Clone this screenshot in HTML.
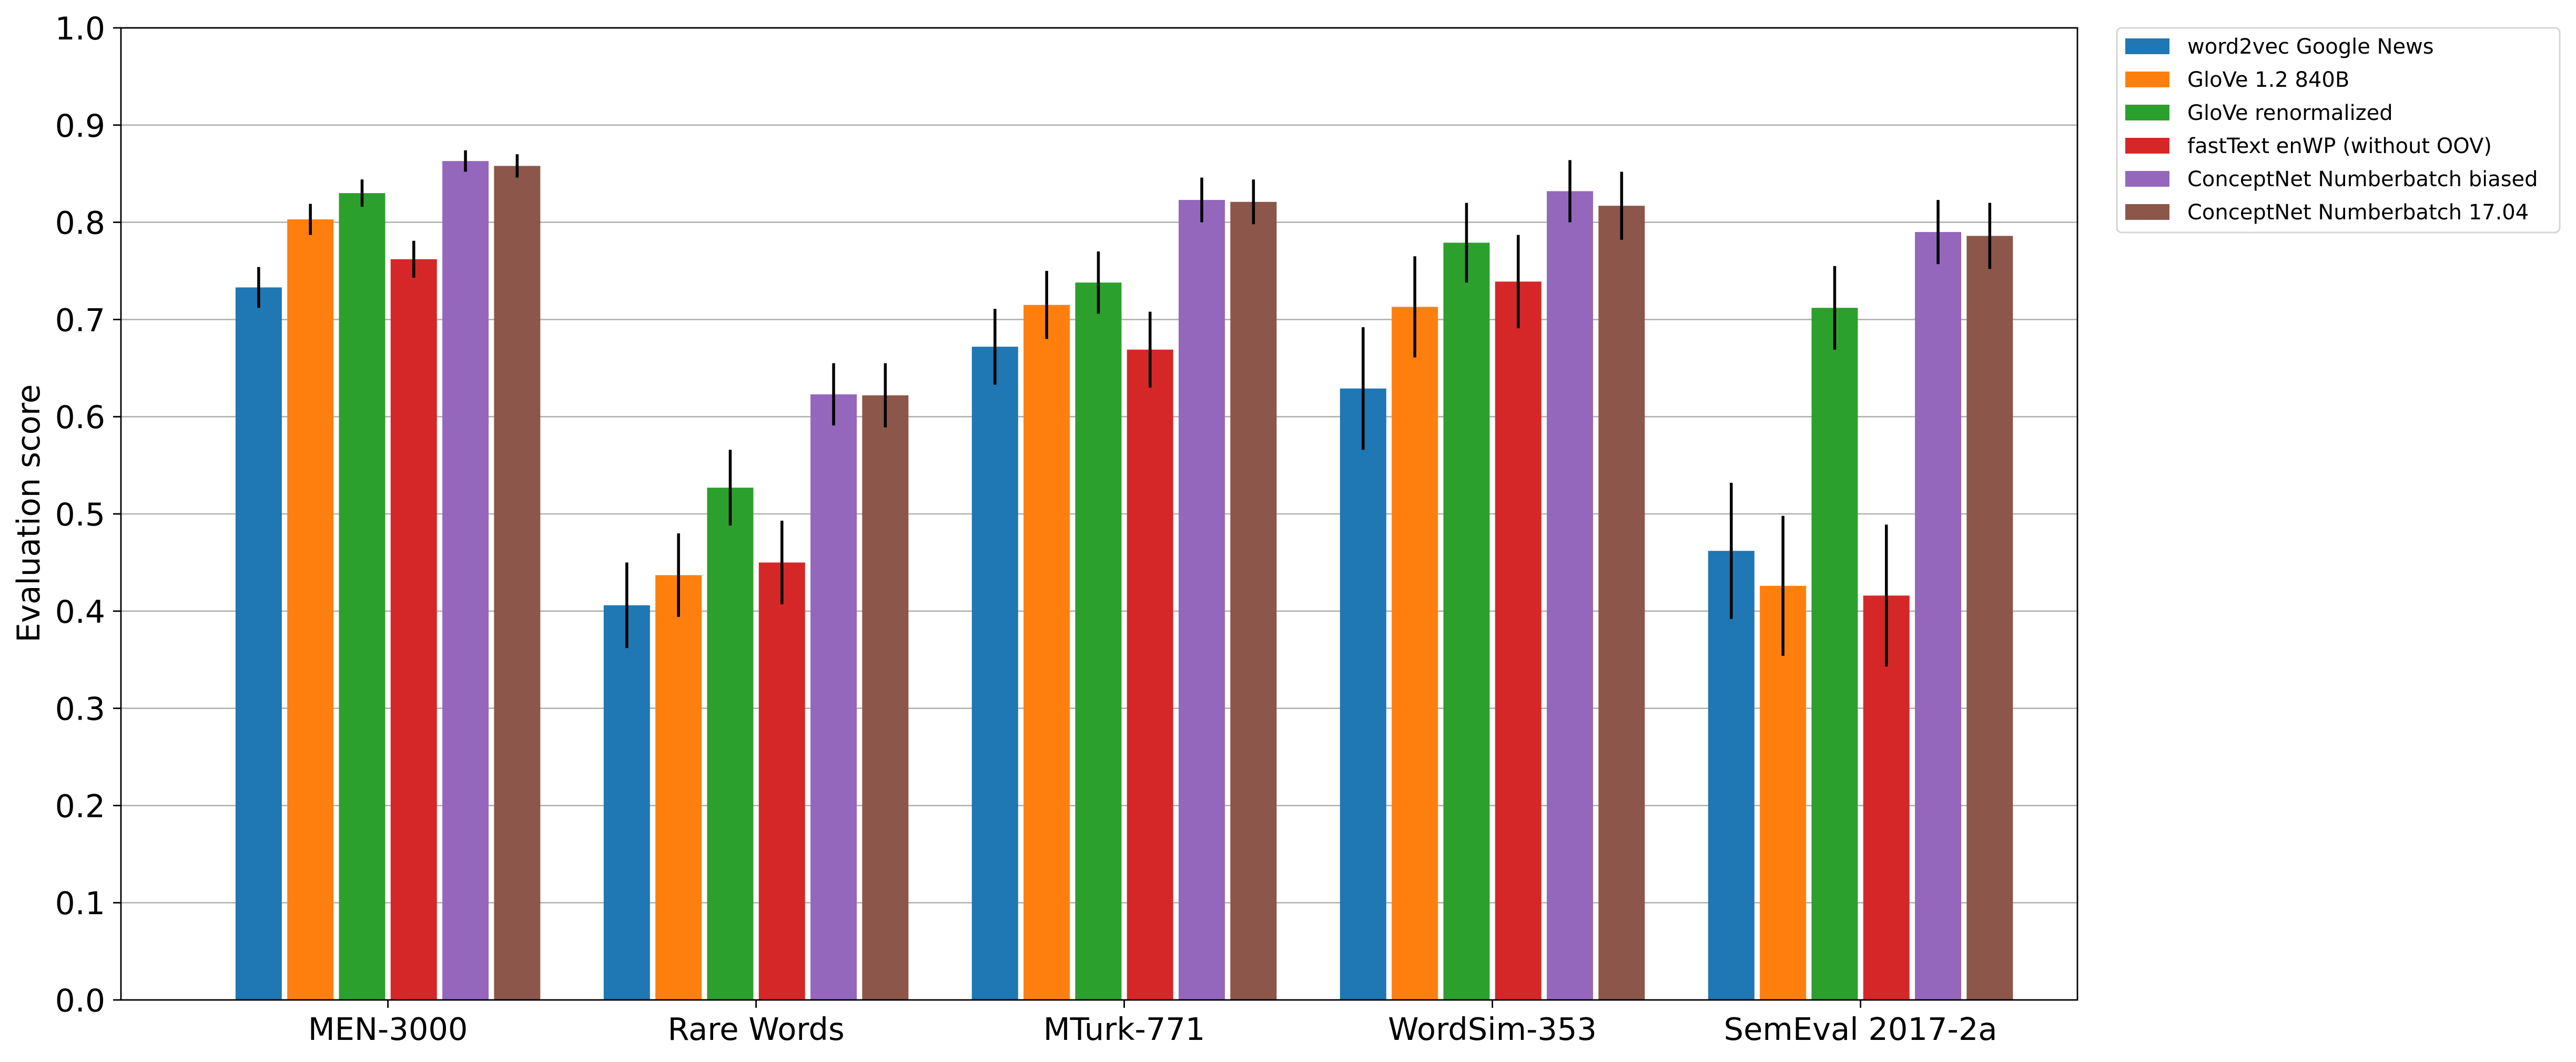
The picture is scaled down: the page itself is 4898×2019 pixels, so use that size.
<!DOCTYPE html>
<html><head><meta charset="utf-8"><title>Evaluation scores</title>
<style>html,body{margin:0;padding:0;background:#fff}svg{display:block}text{font-family:"DejaVu Sans","Liberation Sans",sans-serif;fill:#000}</style>
</head><body>
<svg id="chart" width="4898" height="2019" viewBox="0 0 4898 2019" xmlns="http://www.w3.org/2000/svg">
<g id="grid"></g>
<g id="bars"></g>
<g id="errs"></g>
<g id="axes"></g>
<text x="0" y="0" font-size="60" text-anchor="middle" textLength="491" lengthAdjust="spacingAndGlyphs" transform="translate(75,976) rotate(-90)">Evaluation score</text>
<g id="legend"></g>
</svg>
<script>
const categories = ["MEN-3000","Rare Words","MTurk-771","WordSim-353","SemEval 2017-2a"];
const seriesNames = ["word2vec Google News","GloVe 1.2 840B","GloVe renormalized","fastText enWP (without OOV)","ConceptNet Numberbatch biased","ConceptNet Numberbatch 17.04"];
const colors = ["#1f77b4","#ff7f0e","#2ca02c","#d62728","#9467bd","#8c564b"];
const w2vValues = [0.733,0.406,0.672,0.629,0.462];
const gloveValues = [0.803,0.437,0.715,0.713,0.426];
const gloveRenormValues = [0.830,0.527,0.738,0.779,0.712];
const fastTextValues = [0.762,0.450,0.669,0.739,0.416];
const cnBiasedValues = [0.863,0.623,0.823,0.832,0.790];
const cn1704Values = [0.858,0.622,0.821,0.817,0.786];
const w2vErr = [0.021,0.044,0.039,0.063,0.070];
const gloveErr = [0.016,0.043,0.035,0.052,0.072];
const gloveRenormErr = [0.014,0.039,0.032,0.041,0.043];
const fastTextErr = [0.019,0.043,0.039,0.048,0.073];
const cnBiasedErr = [0.011,0.032,0.023,0.032,0.033];
const cn1704Err = [0.012,0.033,0.023,0.035,0.034];
const yTicks = ["0.0","0.1","0.2","0.3","0.4","0.5","0.6","0.7","0.8","0.9","1.0"];

const series = [w2vValues,gloveValues,gloveRenormValues,fastTextValues,cnBiasedValues,cn1704Values];
const errs = [w2vErr,gloveErr,gloveRenormErr,fastTextErr,cnBiasedErr,cn1704Err];
const NS = "http://www.w3.org/2000/svg";
const L = 230, R = 3950, T = 53, B = 1901;
const yMin = 0, yMax = 1;
function yScale(v){ return B - (v - yMin) / (yMax - yMin) * (B - T); }
const groupPitch = 700, firstCenter = 737.6, barPitch = 98.3, barW = 88;
function xCenter(ci){ return firstCenter + ci * groupPitch; }
function barX(ci, si){ return xCenter(ci) + (si - (series.length - 1) / 2) * barPitch; }
function mk(tag, attrs, parent){ const e = document.createElementNS(NS, tag); for (const k in attrs) e.setAttribute(k, attrs[k]); parent.appendChild(e); return e; }

const grid = document.getElementById('grid');
yTicks.forEach(t => {
  const y = yScale(parseFloat(t));
  const l = mk('line', {x1:L, x2:R, y1:y, y2:y, stroke:'#b0b0b0', 'stroke-width':2.6}, grid);
  
  
});

const barsG = document.getElementById('bars');
const errG = document.getElementById('errs');
series.forEach((vals, si) => {
  vals.forEach((v, ci) => {
    const cx = barX(ci, si);
    const r = mk('rect', {x:cx - barW/2, y:yScale(v), width:barW, height:yScale(0) - yScale(v), fill:colors[si]}, barsG);
    
    
    const e = errs[si][ci];
    const el = mk('line', {x1:cx, x2:cx, y1:yScale(v + e), y2:yScale(v - e), stroke:'#000', 'stroke-width':5.5}, errG);
    
    
  });
});

const axes = document.getElementById('axes');
const frame = mk('rect', {x:L, y:T, width:R-L, height:B-T, fill:'none', stroke:'#000', 'stroke-width':2.8}, axes);


yTicks.forEach(t => {
  const y = yScale(parseFloat(t));
  const tk = mk('line', {x1:L-15, x2:L, y1:y, y2:y, stroke:'#000', 'stroke-width':2.8}, axes);
  
  
  const tx = mk('text', {x:L-30, y:y+22, 'font-size':60, 'text-anchor':'end'}, axes);
  tx.textContent = t;
  
  
});
categories.forEach((c, ci) => {
  const x = xCenter(ci);
  const tk = mk('line', {x1:x, x2:x, y1:B, y2:B+15, stroke:'#000', 'stroke-width':2.8}, axes);
  
  
  const tx = mk('text', {x:x, y:1977, 'font-size':59, 'text-anchor':'middle'}, axes);
  tx.textContent = c;
  
  
});

const lg = document.getElementById('legend');
const box = mk('rect', {x:4025, y:53, width:842, height:389, rx:9, fill:'#fff', stroke:'#d6d6d6', 'stroke-width':3}, lg);


seriesNames.forEach((n, si) => {
  const cy = 88 + si * 63;
  const g = mk('g', {}, lg);
  
  
  const p = mk('rect', {x:4041, y:cy-15, width:84, height:30, fill:colors[si]}, g);
  
  
  const tx = mk('text', {x:4159, y:cy+14, 'font-size':40}, g);
  tx.textContent = n;
  
  
});
</script>
</body></html>
